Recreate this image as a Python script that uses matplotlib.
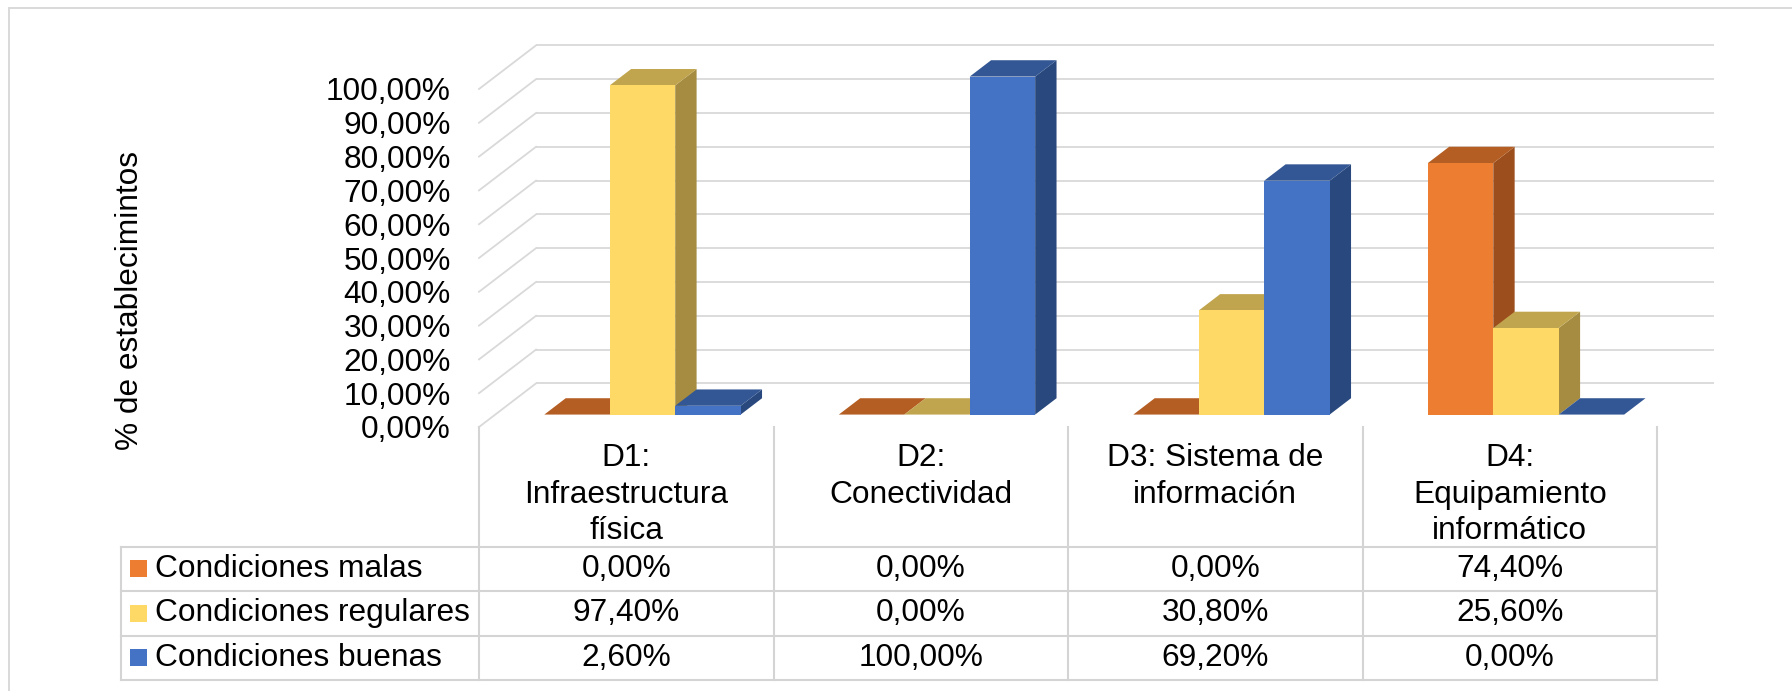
import matplotlib.pyplot as plt
from matplotlib.patches import Polygon, Rectangle

plt.rcParams['font.family'] = ['Liberation Sans', 'DejaVu Sans']

# data
categories = ['D1:\nInfraestructura\nfísica', 'D2:\nConectividad',
              'D3: Sistema de\ninformación', 'D4:\nEquipamiento\ninformático']
series_names = ['Condiciones malas', 'Condiciones regulares', 'Condiciones buenas']
malas = [0.0, 0.0, 0.0, 0.744]
regulares = [0.974, 0.0, 0.308, 0.256]
buenas = [0.026, 1.0, 0.692, 0.0]
y_ticks = [0.0, 0.1, 0.2, 0.3, 0.4, 0.5, 0.6, 0.7, 0.8, 0.9, 1.0]
y_title = '% de establecimintos'

# front / top / side shades for each series
front_colors = ['#ED7D31', '#FFD966', '#4472C4']
top_colors = ['#B55E23', '#C1A54E', '#335794']
side_colors = ['#9C4E1D', '#A58C40', '#29487D']
GRID = '#D9D9D9'
FS = 22.8

# layout in pixels (from the top-left corner)
W, H = 1792, 691
FX0, FX1 = 479, 1657        # front edge of the floor
FY0, FY1 = 427, 89          # 0 % and 100 % on the front plane
DEPTH_X, DEPTH_Y = 57, 43.6  # wall depth
F1, F2 = 0.285, 0.66         # bar front/back as fraction of depth
TABLE_LEFT = 121
ROWS = [547, 591, 636, 680]


def pct(v):
    return f'{v * 100:.2f}%'.replace('.', ',')


fig = plt.figure(figsize=(W / 100, H / 100), dpi=100)
fig.patch.set_facecolor('white')

# outer chart frame
fig.add_artist(Rectangle((9 / W, -0.1), 1.2, 1.1 - 8 / H, transform=fig.transFigure,
                         fill=False, ec=GRID, lw=1.4))

ax = fig.add_axes([FX0 / W, 1 - FY0 / H, (FX1 - FX0) / W, (FY0 - FY1) / H])
ax.set_xlim(0, len(categories))
ax.set_ylim(0, 1)
ax.patch.set_visible(False)
for s in ax.spines.values():
    s.set_visible(False)
ax.set_xticks([])
ax.set_yticks(y_ticks)
ax.set_yticklabels([pct(v) for v in y_ticks])
ax.tick_params(axis='y', length=0, pad=20.2, labelsize=FS)

sx = len(categories) / (FX1 - FX0)
sy = 1 / (FY0 - FY1)
ddx, ddy = DEPTH_X * sx, DEPTH_Y * sy

# back wall + side wall gridlines
for v in y_ticks:
    ax.plot([ddx, len(categories) + ddx], [v + ddy, v + ddy], color=GRID, lw=1.3,
            clip_on=False, zorder=1, solid_capstyle='butt')
    ax.plot([0, ddx], [v, v + ddy], color=GRID, lw=1.3, clip_on=False, zorder=1)

# 3d columns
bar_w = 2 / 9
ox1, oy1 = F1 * ddx, F1 * ddy
ox2, oy2 = F2 * ddx, F2 * ddy
for i in range(len(categories)):
    for j, vals in enumerate([malas, regulares, buenas]):
        h = vals[i]
        x0 = i + 1 / 6 + j * bar_w
        x1 = x0 + bar_w
        side = [(x1 + ox1, oy1), (x1 + ox2, oy2), (x1 + ox2, h + oy2), (x1 + ox1, h + oy1)]
        top = [(x0 + ox1, h + oy1), (x1 + ox1, h + oy1), (x1 + ox2, h + oy2), (x0 + ox2, h + oy2)]
        ax.add_patch(Polygon(side, closed=True, fc=side_colors[j], lw=0, zorder=2, clip_on=False))
        ax.add_patch(Polygon(top, closed=True, fc=top_colors[j], lw=0, zorder=2, clip_on=False))
        ax.add_patch(Rectangle((x0 + ox1, oy1), bar_w, h, fc=front_colors[j], lw=0,
                               zorder=2, clip_on=False))

# data table under the plot
tax = fig.add_axes([TABLE_LEFT / W, 1 - ROWS[-1] / H, (FX1 - TABLE_LEFT) / W,
                    (ROWS[-1] - FY0) / H])
xl = -(FX0 - TABLE_LEFT) * sx
tax.set_xlim(xl, len(categories))
tax.set_ylim(ROWS[-1], FY0)
tax.axis('off')

tcol = '#D4D4D4'
for k in range(len(categories) + 1):
    tax.plot([k, k], [FY0, ROWS[-1]], color=tcol, lw=1.5, clip_on=False)
tax.plot([xl, xl], [ROWS[0], ROWS[-1]], color=tcol, lw=1.5, clip_on=False)
for r in ROWS:
    tax.plot([xl, len(categories)], [r, r], color=tcol, lw=1.5, clip_on=False)

for i, name in enumerate(categories):
    tax.text(i + 0.5, 443.5, name, ha='center', va='top', multialignment='center',
             linespacing=1.27, fontsize=FS)

for j, (name, vals) in enumerate(zip(series_names, [malas, regulares, buenas])):
    yc = (ROWS[j] + ROWS[j + 1]) / 2
    tax.add_patch(Rectangle(((130 - FX0) * sx, yc - 8.5), 17 * sx, 17,
                            fc=front_colors[j], lw=0, clip_on=False))
    tax.text((155 - FX0) * sx, yc, name, ha='left', va='center', fontsize=FS)
    for i, v in enumerate(vals):
        tax.text(i + 0.5, yc, pct(v), ha='center', va='center', fontsize=FS)

fig.text(130 / W, 1 - 300 / H, y_title, rotation=90, ha='center', va='center', fontsize=FS)

fig.savefig('out.png', dpi=100)
